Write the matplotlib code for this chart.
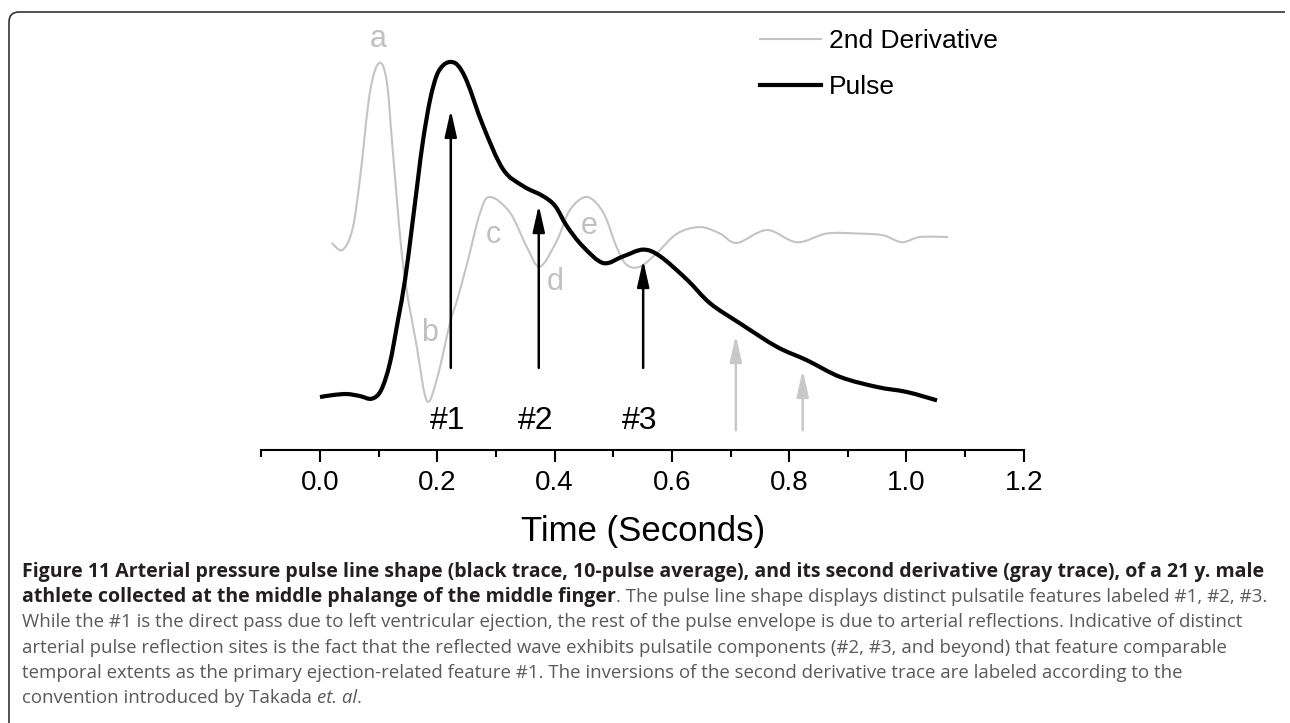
import matplotlib
matplotlib.use("Agg")
import matplotlib.pyplot as plt
from matplotlib.path import Path
from matplotlib.patches import PathPatch
from matplotlib.lines import Line2D

plt.rcParams['font.family'] = ['Liberation Sans', 'DejaVu Sans']

W, H = 1290, 723

# pulse line shape (10-pulse average), normalised amplitude
pulse_t = [0.0, 0.022, 0.046, 0.068, 0.088, 0.104, 0.119, 0.133, 0.145, 0.157,
           0.167, 0.176, 0.188, 0.199, 0.210, 0.222, 0.235, 0.251, 0.278, 0.312,
           0.346, 0.380, 0.401, 0.421, 0.448, 0.483, 0.517, 0.551, 0.580, 0.626,
           0.665, 0.716, 0.779, 0.830, 0.887, 0.950, 1.001, 1.052]
pulse_v = [0.0, 0.006, 0.009, 0.003, -0.005, 0.02, 0.10, 0.23, 0.35, 0.51,
           0.65, 0.77, 0.89, 0.96, 0.99, 1.0, 0.99, 0.94, 0.81, 0.68,
           0.63, 0.60, 0.57, 0.51, 0.45, 0.40, 0.42, 0.44, 0.42, 0.35,
           0.28, 0.22, 0.15, 0.11, 0.06, 0.03, 0.015, -0.01]

# second derivative, arbitrary units
deriv_t = [0.020, 0.038, 0.055, 0.068, 0.085, 0.101, 0.114, 0.124, 0.142,
           0.165, 0.182, 0.199, 0.222, 0.234, 0.251, 0.273, 0.290, 0.324,
           0.353, 0.375, 0.404, 0.426, 0.455, 0.483, 0.506, 0.523, 0.546, 0.575,
           0.609, 0.648, 0.682, 0.711, 0.762, 0.813, 0.864, 0.916, 0.960, 0.992,
           1.023, 1.071]
deriv_v = [-0.034, -0.075, 0.040, 0.33, 0.83, 1.0, 0.89, 0.50, -0.17,
           -0.63, -0.94, -0.82, -0.49, -0.36, -0.15, 0.14, 0.23, 0.14,
           -0.06, -0.17, -0.02, 0.155, 0.23, 0.14, -0.06, -0.16, -0.17, -0.09,
           0.02, 0.057, 0.02, -0.034, 0.04, -0.03, 0.02, 0.02, 0.01, -0.03,
           0.0, 0.0]

# Takada labels on the derivative inversions
inv_labels = ['a', 'b', 'c', 'd', 'e']
inv_t = [0.099, 0.186, 0.295, 0.401, 0.459]
inv_v = [1.138, -0.552, 0.011, -0.259, 0.063]

# pulsatile features
feat_labels = ['#1', '#2', '#3']
feat_t = [0.223, 0.373, 0.551]
feat_tip = [0.857, 0.573, 0.409]
extra_t = [0.709, 0.823]
extra_tip = [0.185, 0.081]

major_ticks = [0.0, 0.2, 0.4, 0.6, 0.8, 1.0, 1.2]
minor_ticks = [-0.1, 0.1, 0.3, 0.5, 0.7, 0.9, 1.1]


def smooth_path(xs, ys):
    # draw a smooth curve through the read points (bezier segments)
    pts = list(zip(xs, ys))
    n = len(pts)
    verts = [pts[0]]
    codes = [Path.MOVETO]
    for i in range(n - 1):
        p0 = pts[i - 1] if i > 0 else pts[i]
        p1, p2 = pts[i], pts[i + 1]
        p3 = pts[i + 2] if i + 2 < n else pts[i + 1]
        c1 = (p1[0] + (p2[0] - p0[0]) / 6, p1[1] + (p2[1] - p0[1]) / 6)
        c2 = (p2[0] - (p3[0] - p1[0]) / 6, p2[1] - (p3[1] - p1[1]) / 6)
        verts += [c1, c2, p2]
        codes += [Path.CURVE4] * 3
    return Path(verts, codes)


fig = plt.figure(figsize=(W / 100, H / 100), dpi=100)


def box(x0, y0, x1, y1):
    return [x0 / W, 1 - y1 / H, (x1 - x0) / W, (y1 - y0) / H]


ax = fig.add_axes(box(261.35, 0, 1023.8, 450))
ax.patch.set_visible(False)
ax.set_xlim(-0.1, 1.2)
ax.set_ylim(-1.224, 1.362)
ax2 = ax.twinx()
ax2.set_ylim(-0.158, 1.185)

dcol = '#c4c4c4'
ax.add_patch(PathPatch(smooth_path(deriv_t, deriv_v), fill=False, edgecolor=dcol,
                       lw=1.5, joinstyle='round'))
ax2.add_patch(PathPatch(smooth_path(pulse_t, pulse_v), fill=False, edgecolor='black',
                        lw=3, joinstyle='round', capstyle='butt', zorder=3))
dline = Line2D([], [], color=dcol, lw=1.5)
pline = Line2D([], [], color='black', lw=3)

for lab, t, v in zip(inv_labels, inv_t, inv_v):
    ax.text(t, v, lab, color='#c0c0c0', fontsize=22, ha='center', va='center')

for lab, t, tip in zip(feat_labels, feat_t, feat_tip):
    ax2.annotate('', xy=(t, tip), xytext=(t, 0.087),
                 arrowprops=dict(arrowstyle='-|>,head_length=1.6,head_width=0.36',
                                 color='black', lw=1.8, shrinkA=0, shrinkB=0,
                                 mutation_scale=10))
    ax2.text(t - 0.006, -0.072, lab, fontsize=23, ha='center', va='center')

for t, tip in zip(extra_t, extra_tip):
    ax2.annotate('', xy=(t, tip), xytext=(t, -0.099),
                 arrowprops=dict(arrowstyle='-|>,head_length=1.6,head_width=0.36',
                                 color='#c8c8c8', lw=1.8, shrinkA=0, shrinkB=0,
                                 mutation_scale=10))

for a in (ax, ax2):
    for s in ('top', 'left', 'right'):
        a.spines[s].set_visible(False)
    a.set_yticks([])
ax2.spines['bottom'].set_visible(False)
ax.spines['bottom'].set_linewidth(1.5)
ax.set_xticks(major_ticks)
ax.set_xticklabels([f'{v:.1f}' for v in major_ticks])
ax.set_xticks(minor_ticks, minor=True)
ax.tick_params(axis='x', which='major', direction='out', length=8.6, width=1.5,
               labelsize=20, pad=5.5)
ax.tick_params(axis='x', which='minor', direction='out', length=5, width=1.5)
ax.set_xlabel('Time (Seconds)', fontsize=25, labelpad=14)

ax2.legend([dline, pline], ['2nd Derivative', 'Pulse'], loc='upper left',
           bbox_to_anchor=(760 / W, 1 - 29 / H), bbox_transform=fig.transFigure,
           frameon=False, fontsize=19, handlelength=2.3, handletextpad=0.3,
           labelspacing=0.85, borderpad=0, borderaxespad=0)

# overlay in pixel coordinates for frame and caption
ov = fig.add_axes([0, 0, 1, 1], zorder=-1)
ov.set_xlim(0, W)
ov.set_ylim(H, 0)
ov.axis('off')

frame = Path([(9, H + 5), (9, 22), (9, 12), (19, 12), (1285, 12)],
             [Path.MOVETO, Path.LINETO, Path.CURVE3, Path.CURVE3, Path.LINETO])
ov.add_patch(PathPatch(frame, fill=False, edgecolor='#333333', lw=1.2))

cap_font = ['Open Sans', 'DejaVu Sans']
bold_c = '#231f20'
reg_c = '#58595b'
x0 = 22
rows = [572, 597, 622, 648, 673, 698]

line1 = ('Figure 11 Arterial pressure pulse line shape (black trace, 10-pulse average), '
         'and its second derivative (gray trace), of a 21 y. male')
line2b = 'athlete collected at the middle phalange of the middle finger'
line2r = '. The pulse line shape displays distinct pulsatile features labeled #1, #2, #3.'
line3 = ('While the #1 is the direct pass due to left ventricular ejection, the rest of '
         'the pulse envelope is due to arterial reflections. Indicative of distinct')
line4 = ('arterial pulse reflection sites is the fact that the reflected wave exhibits '
         'pulsatile components (#2, #3, and beyond) that feature comparable')
line5 = ('temporal extents as the primary ejection-related feature #1. The inversions of '
         'the second derivative trace are labeled according to the')
line6a = 'convention introduced by Takada'
line6b = 'et. al'
line6c = '.'

kw = dict(family=cap_font, va='center', ha='left', fontsize=12)
t1 = ov.text(x0, rows[0], line1, color=bold_c, weight='bold', **kw)
t2b = ov.text(x0, rows[1], line2b, color=bold_c, weight='bold', **kw)
t2r = ov.text(x0, rows[1], line2r, color=reg_c, **kw)
t3 = ov.text(x0, rows[2], line3, color=reg_c, **kw)
t4 = ov.text(x0, rows[3], line4, color=reg_c, **kw)
t5 = ov.text(x0, rows[4], line5, color=reg_c, **kw)
t6a = ov.text(x0, rows[5], line6a, color=reg_c, **kw)
t6b = ov.text(x0, rows[5], line6b, color=reg_c, style='italic', **kw)
t6c = ov.text(x0, rows[5], line6c, color=reg_c, **kw)

fig.canvas.draw()
r = fig.canvas.get_renderer()


def right_px(t):
    return t.get_window_extent(r).x1


bsize = 12 * (1264 - x0) / t1.get_window_extent(r).width
for t in (t1, t2b):
    t.set_fontsize(bsize)
fig.canvas.draw()
b2_end = right_px(t2b)
rsize = min(12 * (1282 - x0) / t3.get_window_extent(r).width,
            12 * (1264 - b2_end) / t2r.get_window_extent(r).width)
for t in (t2r, t3, t4, t5, t6a, t6b, t6c):
    t.set_fontsize(rsize)
fig.canvas.draw()
t2r.set_x(b2_end)
t6b.set_x(right_px(t6a) + rsize * 0.36)
fig.canvas.draw()
t6c.set_x(right_px(t6b))

fig.savefig('out.png', dpi=100)
